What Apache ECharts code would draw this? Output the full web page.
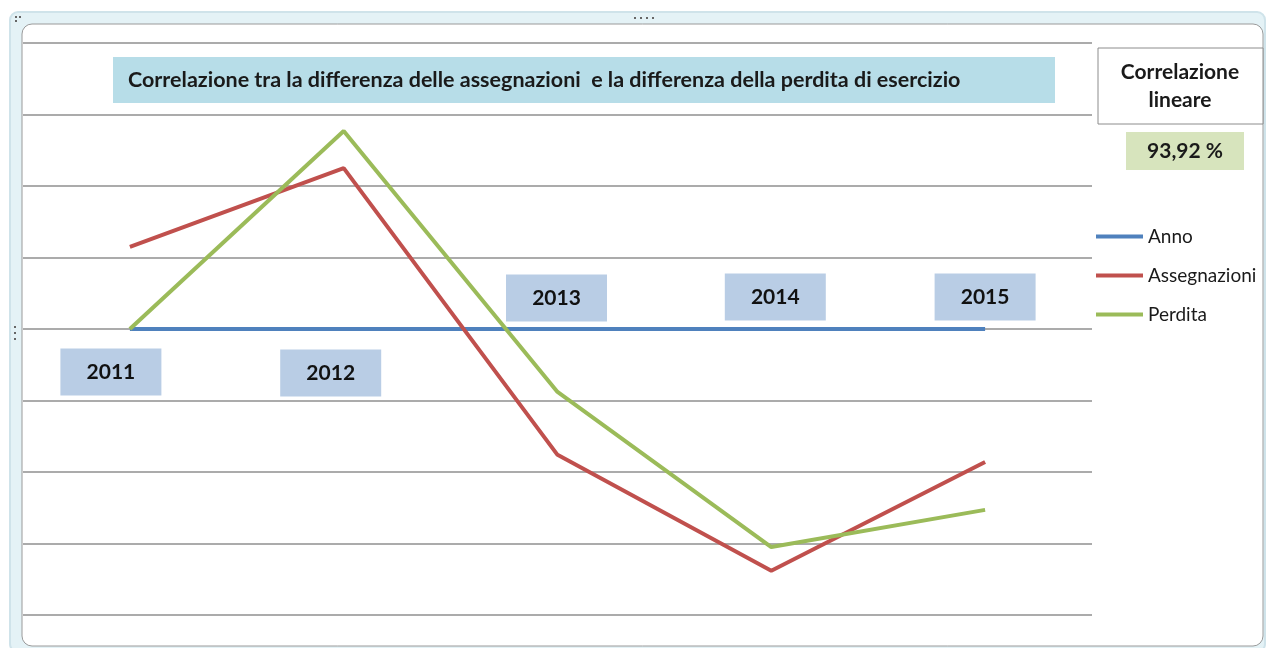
<!DOCTYPE html>
<html>
<head>
<meta charset="utf-8">
<script src="https://cdn.jsdelivr.net/npm/echarts@6/dist/echarts.min.js"></script>
<style>
  html, body { margin: 0; padding: 0; background: #fff; }
  #chart { width: 1269px; height: 648px; }
</style>
</head>
<body>
<div id="chart"></div>
<script>
// data (units = one gridline step)
var years = ['2011', '2012', '2013', '2014', '2015'];
var anno = [0, 0, 0, 0, 0];
var assegnazioni = [1.15, 2.25, -1.76, -3.38, -1.86];
var perdita = [0, 2.77, -0.88, -3.05, -2.53];
var correlazione = '93,92 %';

// where each year box sits relative to its point
var labelOffsets = [[-19, 43], [-13, 44], [-1, -31], [4, -32], [0, -32]];

var font = 'Lato';
var chart = echarts.init(document.getElementById('chart'));

var option = {
    backgroundColor: '#fff',
    animation: false,
    textStyle: { fontFamily: font },
    grid: { left: 23, right: 177, top: 43, bottom: 33 },
    xAxis: {
        type: 'category',
        data: years,
        boundaryGap: true,
        axisLine: { show: false },
        axisTick: { show: false },
        axisLabel: { show: false }
    },
    yAxis: {
        type: 'value',
        min: -4,
        max: 4,
        interval: 1,
        axisLine: { show: false },
        axisTick: { show: false },
        axisLabel: { show: false },
        splitLine: { lineStyle: { color: '#8f8f8f', width: 1.6 } }
    },
    legend: {
        orient: 'vertical',
        left: 1096,
        top: 227,
        padding: 0,
        itemWidth: 47,
        itemHeight: 4,
        itemGap: 20,
        icon: 'rect',
        textStyle: { fontSize: 19, color: '#1a1a1a', fontFamily: font },
        data: ['Anno', 'Assegnazioni', 'Perdita']
    },
    graphic: [
        // outer frame
        { type: 'rect', z: -10, shape: { x: 10, y: 12, width: 1255, height: 640, r: 8 },
          style: { fill: '#e4f2f6', stroke: '#cfe3ea', lineWidth: 2 } },
        { type: 'rect', z: -9, shape: { x: 22, y: 24, width: 1241, height: 622, r: 10 },
          style: { fill: '#fff', stroke: '#9a9a9a', lineWidth: 1 } },
        // little handles
        { type: 'rect', z: -8, shape: { x: 15, y: 16, width: 2, height: 2 }, style: { fill: '#666' } },
        { type: 'rect', z: -8, shape: { x: 19, y: 16, width: 2, height: 2 }, style: { fill: '#666' } },
        { type: 'rect', z: -8, shape: { x: 15, y: 20, width: 2, height: 2 }, style: { fill: '#666' } },
        { type: 'rect', z: -8, shape: { x: 634, y: 17, width: 2, height: 2 }, style: { fill: '#666' } },
        { type: 'rect', z: -8, shape: { x: 640, y: 17, width: 2, height: 2 }, style: { fill: '#666' } },
        { type: 'rect', z: -8, shape: { x: 646, y: 17, width: 2, height: 2 }, style: { fill: '#666' } },
        { type: 'rect', z: -8, shape: { x: 652, y: 17, width: 2, height: 2 }, style: { fill: '#666' } },
        { type: 'rect', z: -8, shape: { x: 14, y: 326, width: 2, height: 2 }, style: { fill: '#666' } },
        { type: 'rect', z: -8, shape: { x: 14, y: 332, width: 2, height: 2 }, style: { fill: '#666' } },
        { type: 'rect', z: -8, shape: { x: 14, y: 338, width: 2, height: 2 }, style: { fill: '#666' } },
        // title box
        { type: 'rect', shape: { x: 113, y: 57, width: 942, height: 46 }, style: { fill: '#b7dde8' } },
        { type: 'text', x: 128, y: 80,
          style: { text: 'Correlazione tra la differenza delle assegnazioni  e la differenza della perdita di esercizio',
                   font: 'bold 21.5px ' + font, fill: '#1a1a1a', verticalAlign: 'middle' } },
        // correlation box
        { type: 'rect', shape: { x: 1098, y: 48, width: 165, height: 76 },
          style: { fill: '#fff', stroke: '#8c8c8c', lineWidth: 1 } },
        { type: 'text', x: 1180, y: 86,
          style: { text: 'Correlazione\nlineare', font: 'bold 21px ' + font, fill: '#1a1a1a',
                   align: 'center', verticalAlign: 'middle', lineHeight: 28 } },
        { type: 'rect', shape: { x: 1126, y: 132, width: 118, height: 38 }, style: { fill: '#d7e4bd' } },
        { type: 'text', x: 1185, y: 151,
          style: { text: correlazione, font: 'bold 21px ' + font, fill: '#1a1a1a',
                   align: 'center', verticalAlign: 'middle' } }
    ],
    series: [
        {
            name: 'Anno',
            type: 'line',
            z: 3,
            symbol: 'circle',
            symbolSize: 0.1,
            lineStyle: { color: '#4f81bd', width: 4 },
            itemStyle: { color: '#4f81bd' },
            label: {
                show: true,
                position: 'inside',
                formatter: function (p) { return years[p.dataIndex]; },
                backgroundColor: '#b9cde5',
                width: 101,
                height: 47,
                lineHeight: 47,
                align: 'center',
                verticalAlign: 'middle',
                fontSize: 21,
                fontWeight: 'bold',
                color: '#111',
                fontFamily: font
            },
            data: anno.map(function (v, i) {
                return { value: v, label: { offset: labelOffsets[i] } };
            })
        },
        {
            name: 'Assegnazioni',
            type: 'line',
            z: 4,
            showSymbol: false,
            lineStyle: { color: '#c0504d', width: 4 },
            itemStyle: { color: '#c0504d' },
            data: assegnazioni
        },
        {
            name: 'Perdita',
            type: 'line',
            z: 5,
            showSymbol: false,
            lineStyle: { color: '#9bbb59', width: 4 },
            itemStyle: { color: '#9bbb59' },
            data: perdita
        }
    ]
};

chart.setOption(option);
</script>
</body>
</html>
